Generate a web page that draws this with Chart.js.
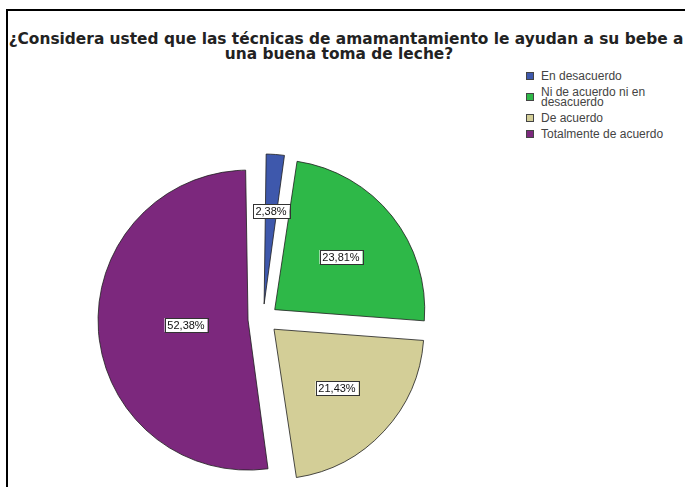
<!DOCTYPE html>
<html>
<head>
<meta charset="utf-8">
<script src="https://cdn.jsdelivr.net/npm/chart.js@4.4.0/dist/chart.umd.min.js"></script>
<style>
  html, body { margin: 0; padding: 0; width: 685px; height: 487px; overflow: hidden; background: #fff; font-family: "Liberation Sans", Arial, sans-serif; }
  #marco { position: absolute; left: 6px; top: 9px; width: 800px; height: 600px; border-left: 2px solid #000; border-top: 2px solid #000; }
  #titulo { position: absolute; left: 0; top: 32px; width: 692px; text-align: center; font-family: "DejaVu Sans", sans-serif; font-weight: bold; font-size: 15.4px; line-height: 15px; color: #222; white-space: nowrap; }
  #titulo .l2 { position: relative; left: -7px; }
  #grafico { position: absolute; left: 83px; top: 139px; width: 360px; height: 360px; }
  #leyenda { position: absolute; left: 526px; top: 71px; font-size: 12px; line-height: 10px; color: #444; }
  .item { display: flex; align-items: center; margin-bottom: 6px; }
  .caja { width: 6px; height: 6px; border: 1px solid #444; margin-right: 7px; flex: none; }
</style>
</head>
<body>
<div id="marco"></div>
<div id="titulo"></div>
<div id="leyenda"></div>
<div id="grafico"><canvas id="pieChart"></canvas></div>
<script>
// Datos
const tituloLineas = ['¿Considera usted que las técnicas de amamantamiento le ayudan a su bebe a', 'una buena toma de leche?'];
const categorias = ['En desacuerdo', ['Ni de acuerdo ni en', 'desacuerdo'], 'De acuerdo', 'Totalmente de acuerdo'];
const porcentajes = [2.38, 23.81, 21.43, 52.38];
const colores = ['#3E58AC', '#2EB848', '#D3CE97', '#7C287D'];

const RADIO = 150;
const separacion = 15;

// Titulo
document.getElementById('titulo').innerHTML =
  tituloLineas[0] + '<br><span class="l2">' + tituloLineas[1] + '</span>';

// Leyenda
const leyenda = document.getElementById('leyenda');
categorias.forEach((cat, i) => {
  const item = document.createElement('div');
  item.className = 'item';
  const texto = Array.isArray(cat) ? cat.join('<br>') : cat;
  item.innerHTML = `<span class="caja" style="background:${colores[i]}"></span><span>${texto}</span>`;
  leyenda.appendChild(item);
});

// el desplazamiento de cada porcion agranda el radio en chart.js, se corrige aqui
const ajusteRadio = {
  id: 'ajusteRadio',
  afterDatasetUpdate(chart) {
    chart.getDatasetMeta(0).data.forEach(arc => {
      const circ = arc.endAngle - arc.startAngle;
      const fix = 1 - Math.sin(Math.min(Math.PI, circ));
      arc.outerRadius = RADIO - separacion * fix;
    });
  }
};

// Etiquetas de porcentaje en el centroide de cada porcion
const etiquetas = {
  id: 'etiquetas',
  afterDatasetsDraw(chart) {
    const ctx = chart.ctx;
    ctx.save();
    ctx.font = '11px "Liberation Sans", Arial, sans-serif';
    ctx.textAlign = 'center';
    ctx.textBaseline = 'middle';
    chart.getDatasetMeta(0).data.forEach((arc, i) => {
      const circ = arc.endAngle - arc.startAngle;
      const medio = (arc.startAngle + arc.endAngle) / 2;
      const d = separacion + 4 * RADIO * Math.sin(circ / 2) / (3 * circ) * (circ > 2 ? 1.03 : 0.93);
      const x = Math.round(arc.x + Math.cos(medio) * d);
      const y = Math.round(arc.y + Math.sin(medio) * d);
      const txt = porcentajes[i].toFixed(2).replace('.', ',') + '%';
      const w = Math.round(ctx.measureText(txt).width) + 6;
      const h = 14;
      ctx.fillStyle = '#fff';
      ctx.fillRect(x - w / 2, y - h / 2, w, h);
      ctx.strokeStyle = '#333';
      ctx.lineWidth = 1;
      ctx.strokeRect(Math.round(x - w / 2) + 0.5, Math.round(y - h / 2) + 0.5, w, h);
      ctx.fillStyle = '#111';
      ctx.fillText(txt, x, y + 1);
    });
    ctx.restore();
  }
};

const pieChart = new Chart(document.getElementById('pieChart').getContext('2d'), {
  type: 'pie',
  data: {
    labels: categorias,
    datasets: [{
      data: porcentajes,
      backgroundColor: colores,
      borderColor: 'rgba(30,30,30,0.8)',
      borderWidth: 1,
      offset: separacion * 4,
      clip: false
    }]
  },
  options: {
    responsive: true,
    maintainAspectRatio: false,
    animation: false,
    radius: RADIO,
    layout: { padding: 0 },
    plugins: {
      legend: { display: false },
      tooltip: { enabled: false }
    }
  },
  plugins: [ajusteRadio, etiquetas]
});
</script>
</body>
</html>
